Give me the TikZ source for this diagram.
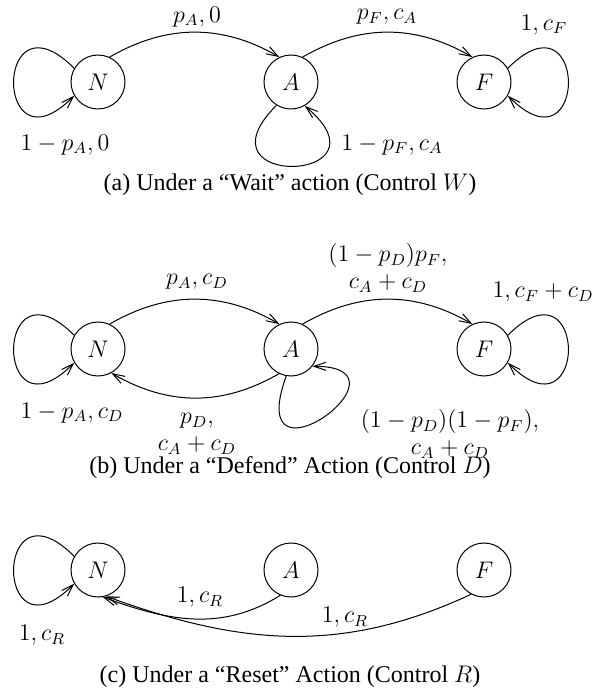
\documentclass[tikz,border=0pt]{standalone}
\usepackage{fontspec}
\setmainfont{Liberation Serif}
\usetikzlibrary{positioning, arrows.meta}
\tikzset{
  state/.style={circle, draw, line width=0.5pt, minimum size=27pt, inner sep=0pt},
  trans/.style={-{Straight Barb[length=6pt, width=4pt]}, line width=0.5pt},
  lbl/.style={align=center, inner sep=0pt},
  captxt/.style={inner sep=0pt}
}
\begin{document}
\begin{tikzpicture}[x=0.5pt, y=0.5pt, node distance=69pt, font=\fontsize{12}{13.5}\selectfont]
  \useasboundingbox (0,0) rectangle (605,692);

  % (a) Wait
  \node[state] (Na) at (98,610) {$N$};
  \node[state, right=of Na] (Aa) {$A$};
  \node[state, right=of Aa] (Fa) {$F$};
  \draw[trans] (Na.65) to[out=30,in=150] (Aa.115);
  \draw[trans] (Aa.65) to[out=30,in=150] (Fa.115);
  \draw[trans] (Na.150) .. controls +(135:114) and +(225:114) .. (Na.210);
  \draw[trans] (Fa.30) .. controls +(45:114) and +(-45:114) .. (Fa.-30);
  \draw[trans] (Aa.238) .. controls +(225:120) and +(-40:120) .. (Aa.-60);
  \node[lbl] (la1) at (197,675) {$p_A,0$};
  \node[lbl] (la2) at (387,675) {$p_F,c_A$};
  \node[lbl] (la3) at (544,667) {$1,c_F$};
  \node[lbl] (la4) at (65,547) {$1-p_A,0$};
  \node[lbl] (la5) at (392,547) {$1-p_F,c_A$};
  \node[captxt] (capa) at (290,507) {(a) Under a “Wait” action (Control $W$)};

  % (b) Defend
  \node[state] (Nb) at (98,343) {$N$};
  \node[state, right=of Nb] (Ab) {$A$};
  \node[state, right=of Ab] (Fb) {$F$};
  \draw[trans] (Nb.65) to[out=30,in=150] (Ab.115);
  \draw[trans] (Ab.244) to[out=210,in=-30] (Nb.299);
  \draw[trans] (Ab.65) to[out=30,in=150] (Fb.115);
  \draw[trans] (Nb.150) .. controls +(135:114) and +(225:114) .. (Nb.210);
  \draw[trans] (Fb.30) .. controls +(45:114) and +(-45:114) .. (Fb.-30);
  \draw[trans] (Ab.260) .. controls +(250:130) and +(0:110) .. (Ab.321);
  \node[lbl] (lb1) at (197,410) {$p_A,c_D$};
  \node[lbl] (lb2) at (388,424) {$(1-p_D)p_F,$\\$c_A+c_D$};
  \node[lbl] (lb3) at (543,400) {$1,c_F+c_D$};
  \node[lbl] (lb4) at (72,279) {$1-p_A,c_D$};
  \node[lbl] (lb5) at (197,258) {$p_D,$\\$c_A+c_D$};
  \node[lbl] (lb6) at (450,258) {$(1-p_D)(1-p_F),$\\$c_A+c_D$};
  \node[captxt] (capb) at (290,224) {(b) Under a “Defend” Action (Control $D$)};

  % (c) Reset
  \node[state] (Nc) at (98,122) {$N$};
  \node[state, right=of Nc] (Ac) {$A$};
  \node[state, right=of Ac] (Fc) {$F$};
  \draw[trans] (Nc.150) .. controls +(135:114) and +(225:114) .. (Nc.210);
  \draw[trans] (Ac.247) to[out=212,in=-20] (Nc.280);
  \draw[trans] (Fc.242) to[out=205,in=-20] (Nc.287);
  \node[lbl] (lc1) at (200,95) {$1,c_R$};
  \node[lbl] (lc2) at (345,75) {$1,c_R$};
  \node[lbl] (lc3) at (42,57) {$1,c_R$};
  \node[captxt] (capc) at (290,15) {(c) Under a “Reset” Action (Control $R$)};
\end{tikzpicture}
\end{document}
